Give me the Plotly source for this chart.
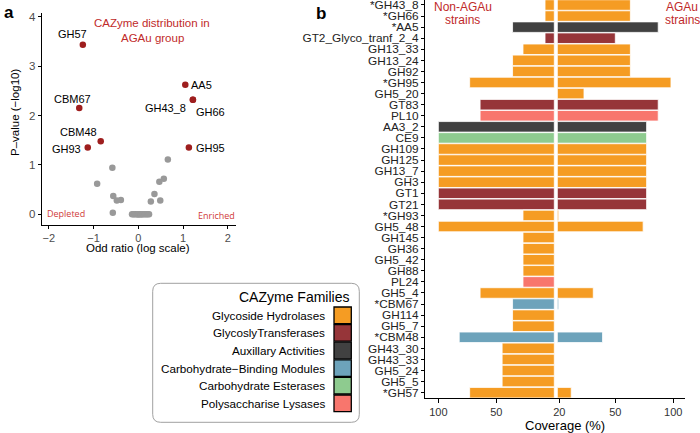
import plotly.graph_objects as go

# ---------------- Panel a data (volcano) ----------------
sig_names = ["GH57", "CBM67", "CBM48", "GH93", "AA5", "GH43_8", "GH66", "GH95"]
sig_odds = [-1.24, -1.32, -0.84, -1.13, 1.05, 1.22, 1.22, 1.13]
sig_pval = [3.43, 2.15, 1.48, 1.35, 2.62, 2.32, 2.32, 1.35]

ns_odds = [0.66, -0.58, -0.92, 0.57, 0.47, -0.56, -0.48, -0.39, 0.36, 0.28, 0.49, -0.57,
           -0.14, -0.11, -0.08, -0.05, -0.02, 0.00, 0.00, 0.03, 0.06, 0.06, 0.09, 0.12,
           0.15, 0.18, 0.21, 0.24]
ns_pval = [1.11, 0.94, 0.62, 0.72, 0.66, 0.37, 0.28, 0.29, 0.41, 0.26, 0.28, 0.03,
           0, 0, 0, 0, 0, 0, 0, 0, 0, 0, 0, 0, 0, 0, 0, 0]

# ---------------- Panel b data (coverage) ----------------
families = ["Glycoside Hydrolases", "GlycoslyTransferases", "Auxillary Activities",
            "Carbohydrate\u2212Binding Modules", "Carbohydrate Esterases", "Polysaccharise Lysases"]
fam_colors = ["#F59C23", "#963539", "#414141", "#6DA3BB", "#8ECB8F", "#F8766D"]

cazymes = ["*GH43_8", "*GH66", "*AA5", "GT2_Glyco_tranf_2_4", "GH13_33", "GH13_24", "GH92",
           "*GH95", "GH5_20", "GT83", "PL10", "AA3_2", "CE9", "GH109", "GH125", "GH13_7",
           "GH3", "GT1", "GT21", "*GH93", "GH5_48", "GH145", "GH36", "GH5_42", "GH88",
           "PL24", "GH5_4", "*CBM67", "GH114", "GH5_7", "*CBM48", "GH43_30", "GH43_33",
           "GH5_24", "GH5_5", "*GH57"]
caz_family = [0, 0, 2, 1, 0, 0, 0, 0, 0, 1, 5, 2, 4, 0, 0, 0, 0, 1, 1, 0, 0, 0, 0, 0, 0,
              5, 0, 3, 0, 0, 3, 0, 0, 0, 0, 0]
cov_non_agau = [8, 8, 36, 8, 27, 36, 36, 73, 0, 64, 64, 100, 100, 100, 100, 100, 100, 100,
                100, 27, 100, 27, 27, 27, 27, 27, 64, 36, 36, 36, 82, 45, 45, 45, 45, 73]
cov_agau = [63, 63, 87, 50, 63, 63, 63, 98, 23, 87, 87, 77, 77, 77, 77, 77, 77, 77, 77,
            1.2, 74, 0, 0, 0, 0, 0, 31, 1.2, 0, 0, 39, 0, 0, 0, 0, 12]

cov_tickvals = [-101.3, -51.3, 3, 51.3, 101.3]
cov_ticktext = ["100", "50", "20", "50", "100"]

RED_PT = "#9E1E1E"
RED_TXT = "#BF2A2A"
FONT = "Liberation Sans, Arial, sans-serif"

fig = go.Figure()

# volcano points
fig.add_trace(go.Scatter(x=ns_odds, y=ns_pval, mode="markers",
                         marker=dict(color="#999999", size=6.5), xaxis="x", yaxis="y",
                         showlegend=False, hoverinfo="skip"))
fig.add_trace(go.Scatter(x=sig_odds, y=sig_pval, mode="markers",
                         marker=dict(color=RED_PT, size=6.5), xaxis="x", yaxis="y",
                         showlegend=False, text=sig_names))

# coverage bars
gap = 1.3
bar_colors = [fam_colors[f] for f in caz_family]
fig.add_trace(go.Bar(y=cazymes, x=[-v for v in cov_non_agau], base=-gap, orientation="h",
                     marker=dict(color=bar_colors, line=dict(color="white", width=0.8)),
                     width=0.95, xaxis="x2", yaxis="y2", showlegend=False))
fig.add_trace(go.Bar(y=cazymes, x=cov_agau, base=gap, orientation="h",
                     marker=dict(color=bar_colors, line=dict(color="white", width=0.8)),
                     width=0.95, xaxis="x2", yaxis="y2", showlegend=False))

annotations = []
# point labels (offsets in pixels)
label_offsets = {"GH57": (-10, 11), "CBM67": (-7, 9), "CBM48": (-22, 9), "GH93": (-21, -1),
                 "AA5": (16, 0), "GH43_8": (-27, -8), "GH66": (18, -12), "GH95": (22, 0)}
for n, xo, yo in zip(sig_names, sig_odds, sig_pval):
    dx, dy = label_offsets[n]
    annotations.append(dict(x=xo, y=yo, xref="x", yref="y", text=n, showarrow=False,
                            xanchor="center", yanchor="middle",
                            xshift=dx, yshift=dy, font=dict(size=11, color="black", family=FONT)))

def px(x):
    return x / 700.0

def py(y):
    return 1 - y / 433.0

def note(x, y, text, size, color="black", family=FONT, xanchor="center", angle=0):
    return dict(x=px(x), y=py(y), xref="paper", yref="paper", text=text, showarrow=False,
                xanchor=xanchor, yanchor="middle", align="center", textangle=angle,
                font=dict(size=size, color=color, family=family))

annotations += [
    note(152, 23.5, "CAZyme distribution in", 11.5, RED_TXT),
    note(152, 37.8, "AGAu group", 11.5, RED_TXT),
    note(66, 213.5, "Depleted", 9, "#D03A3A", "Open Sans, sans-serif"),
    note(216, 215.5, "Enriched", 9, "#D03A3A", "Open Sans, sans-serif"),
    note(8.5, 12, "<b>a</b>", 17),
    note(321, 13, "<b>b</b>", 17),
    note(462.5, 7, "Non-AGAu", 12, RED_TXT),
    note(462.5, 20.5, "strains", 12, RED_TXT),
    note(682, 7, "AGAu", 12, RED_TXT),
    note(682, 20.5, "strains", 12, RED_TXT),
    note(351, 297, "CAZyme Families", 14, xanchor="right"),
    note(138.3, 248.5, "Odd ratio (log scale)", 11.5),
    note(15, 113, "P\u2013value (\u2212log10)", 11.5, angle=-90),
    note(565, 425, "Coverage (%)", 13),
]

shapes = []
# legend box (rounded)
x0, x1, y0, y1 = px(152.7), px(359.3), py(422.3), py(283.3)
rx, ry = 8 / 700.0, 8 / 433.0
path = (f"M {x0+rx},{y0} L {x1-rx},{y0} Q {x1},{y0} {x1},{y0+ry} L {x1},{y1-ry} "
        f"Q {x1},{y1} {x1-rx},{y1} L {x0+rx},{y1} Q {x0},{y1} {x0},{y1-ry} "
        f"L {x0},{y0+ry} Q {x0},{y0} {x0+rx},{y0} Z")
shapes.append(dict(type="path", path=path, xref="paper", yref="paper",
                   line=dict(color="#A0A0A0", width=1), fillcolor="white", layer="below"))
key_y = [315.3, 332.9, 350.5, 368.1, 385.7, 403.3]
for name, col, ky in zip(families, fam_colors, key_y):
    shapes.append(dict(type="rect", xref="paper", yref="paper", x0=px(334), x1=px(351.3),
                       y0=py(ky + 8.3), y1=py(ky - 8.3), fillcolor=col,
                       line=dict(color="black", width=1.3)))
    annotations.append(note(327, ky, name, 11.7, xanchor="right"))

fig.update_layout(
    width=700, height=433, margin=dict(l=0, r=0, t=0, b=0, autoexpand=False),
    paper_bgcolor="white", plot_bgcolor="white", barmode="overlay",
    font=dict(family=FONT, color="black"),
    xaxis=dict(domain=[px(41.7), px(236)], range=[-2.159, 2.183], tickvals=[-2, -1, 0, 1, 2],
               ticktext=["\u22122", "\u22121", "0", "1", "2"], automargin=False,
               showline=True, linecolor="black", linewidth=1, ticks="outside", ticklen=3,
               tickcolor="black", showgrid=False, zeroline=False,
               tickfont=dict(size=11, color="#4D4D4D")),
    yaxis=dict(domain=[py(225), py(13.3)], range=[-0.217, 4.069], tickvals=[0, 1, 2, 3, 4],
               automargin=False,
               showline=True, linecolor="black", linewidth=1, ticks="outside", ticklen=3,
               tickcolor="black", showgrid=False, zeroline=False,
               tickfont=dict(size=11.5, color="#4D4D4D")),
    xaxis2=dict(domain=[px(425), px(685)], range=[-112.8, 111.4], anchor="y2",
                tickvals=cov_tickvals, ticktext=cov_ticktext, automargin=False,
                showline=True, linecolor="black", linewidth=1.2, ticks="outside", ticklen=4,
                tickcolor="black", showgrid=False, zeroline=False,
                tickfont=dict(size=11, color="#333333")),
    yaxis2=dict(domain=[py(398), 1.0], anchor="x2", type="category",
                categoryorder="array", categoryarray=cazymes, range=[35.48, -0.45],
                tickmode="array", tickvals=cazymes, ticktext=cazymes, automargin=False,
                showline=True, linecolor="black", linewidth=1.2, ticks="outside", ticklen=3,
                tickcolor="black", showgrid=False, zeroline=False,
                tickfont=dict(size=11.8, color="#222222")),
    annotations=annotations, shapes=shapes,
)

fig.write_html("out.html", config={"displayModeBar": False},
               post_script="document.body.style.margin='0';document.body.style.overflow='hidden';")
